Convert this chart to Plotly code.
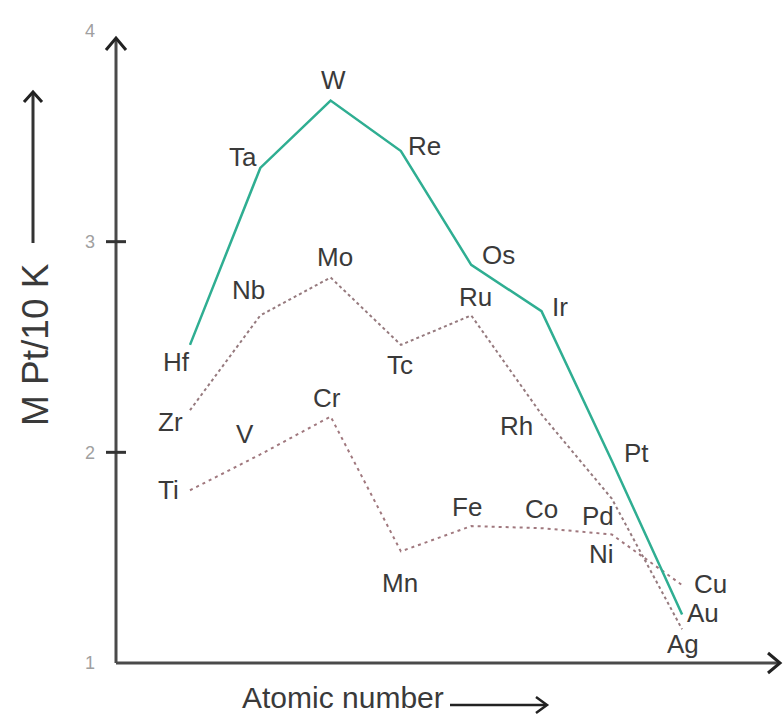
import plotly.graph_objects as go

# Melting points (in thousands of kelvin) of the transition metals, by group column
col_index = [0, 1, 2, 3, 4, 5, 6, 7]

elements_5d = ["Hf", "Ta", "W", "Re", "Os", "Ir", "Pt", "Au"]
mp_5d = [2.51, 3.35, 3.67, 3.43, 2.89, 2.67, 1.96, 1.23]

elements_4d = ["Zr", "Nb", "Mo", "Tc", "Ru", "Rh", "Pd", "Ag"]
mp_4d = [2.20, 2.65, 2.83, 2.51, 2.65, 2.18, 1.78, 1.16]

elements_3d = ["Ti", "V", "Cr", "Mn", "Fe", "Co", "Ni", "Cu"]
mp_3d = [1.82, 1.99, 2.17, 1.53, 1.65, 1.64, 1.61, 1.37]

y_ticks = [1, 2, 3, 4]
y_title = "M Pt/10 K"
x_title = "Atomic number"

# label offsets (pixels) for each element name relative to its point
off_5d = [(-14, -17), (-17, 11), (3, 21), (24, 5), (27, 10), (18, 4), (25, 8), (21, 2)]
off_4d = [(-20, -12), (-12, 25), (4, 20), (-1, -20), (4, 18), (-25, -12), (-14, -17), (1, -15)]
off_3d = [(-22, 0), (-15, 20), (-4, 19), (-1, -32), (-4, 19), (0, 19), (-10, -20), (28, 1)]

W, H = 783, 723
ML, MR, MT, MB = 116, 3, 31, 60
px_per_col = 70.3
x0 = -(190 - ML) / px_per_col
x1 = x0 + (W - ML - MR) / px_per_col
pw, ph = W - ML - MR, H - MT - MB

axis_col = "#4a4a4a"
text_col = "#3a3a3a"
font_fam = "Liberation Sans, Arial, sans-serif"


def px_x(p):
    return (p - ML) / pw


def px_y(p):
    return (H - p - MB) / ph


fig = go.Figure()

fig.add_trace(go.Scatter(x=col_index, y=mp_3d, mode="lines",
                         line=dict(color="rgb(160,120,126)", width=2, dash="3px,4px"),
                         hoverinfo="skip", showlegend=False))
fig.add_trace(go.Scatter(x=col_index, y=mp_4d, mode="lines",
                         line=dict(color="rgb(150,122,126)", width=2, dash="dot"),
                         hoverinfo="skip", showlegend=False))
fig.add_trace(go.Scatter(x=col_index, y=mp_5d, mode="lines",
                         line=dict(color="#2fae92", width=2.5),
                         hoverinfo="skip", showlegend=False))

annotations = []
for names, vals, offs in ((elements_5d, mp_5d, off_5d),
                          (elements_4d, mp_4d, off_4d),
                          (elements_3d, mp_3d, off_3d)):
    for i, (nm, v, (dx, dy)) in enumerate(zip(names, vals, offs)):
        annotations.append(dict(x=col_index[i], y=v, xref="x", yref="y", text=nm,
                                showarrow=False, xshift=dx, yshift=dy,
                                xanchor="center", yanchor="middle",
                                font=dict(family=font_fam, size=26, color=text_col)))

# axis titles
annotations.append(dict(x=px_x(35), y=px_y(345), xref="paper", yref="paper", text=y_title,
                        showarrow=False, textangle=-90, xanchor="center", yanchor="middle",
                        font=dict(family=font_fam, size=37, color=text_col)))
annotations.append(dict(x=px_x(343), y=px_y(697), xref="paper", yref="paper", text=x_title,
                        showarrow=False, xanchor="center", yanchor="middle",
                        font=dict(family=font_fam, size=30, color=text_col)))

shapes = []
line_style = dict(color=axis_col, width=3)
# axes
shapes.append(dict(type="line", xref="paper", yref="paper",
                   x0=px_x(116), x1=px_x(116), y0=px_y(663), y1=px_y(38), line=line_style))
shapes.append(dict(type="line", xref="paper", yref="paper",
                   x0=px_x(116), x1=px_x(780), y0=px_y(663), y1=px_y(663), line=line_style))
# arrow heads on the axes
shapes.append(dict(type="path", xref="paper", yref="paper", xsizemode="pixel", ysizemode="pixel",
                   xanchor=px_x(116), yanchor=px_y(38),
                   path="M -10,-12 L 0,0 L 10,-12", line=dict(color="#222", width=3)))
shapes.append(dict(type="path", xref="paper", yref="paper", xsizemode="pixel", ysizemode="pixel",
                   xanchor=px_x(780), yanchor=px_y(663),
                   path="M -12,10 L 0,0 L -12,-10", line=dict(color="#222", width=3)))
# tick marks at 2 and 3
for v in (2, 3):
    shapes.append(dict(type="line", xref="paper", yref="y", x0=px_x(106), x1=px_x(126),
                       y0=v, y1=v, line=dict(color="#333", width=3)))
# y title arrow
shapes.append(dict(type="line", xref="paper", yref="paper", x0=px_x(33), x1=px_x(33),
                   y0=px_y(243), y1=px_y(94), line=dict(color="#333", width=3)))
shapes.append(dict(type="path", xref="paper", yref="paper", xsizemode="pixel", ysizemode="pixel",
                   xanchor=px_x(33), yanchor=px_y(92),
                   path="M -9,-10 L 0,0 L 9,-10", line=dict(color="#222", width=3)))
# x title arrow
shapes.append(dict(type="line", xref="paper", yref="paper", x0=px_x(450), x1=px_x(546),
                   y0=px_y(705), y1=px_y(705), line=dict(color="#222", width=2.5)))
shapes.append(dict(type="path", xref="paper", yref="paper", xsizemode="pixel", ysizemode="pixel",
                   xanchor=px_x(547), yanchor=px_y(705),
                   path="M -11,8 L 0,0 L -11,-8", line=dict(color="#222", width=2.5)))

fig.update_layout(
    width=W, height=H,
    margin=dict(l=ML, r=MR, t=MT, b=MB, pad=0),
    plot_bgcolor="white", paper_bgcolor="white",
    xaxis=dict(range=[x0, x1], showgrid=False, zeroline=False, showline=False,
               showticklabels=False, ticks=""),
    yaxis=dict(range=[1, 4], showgrid=False, zeroline=False, showline=False,
               tickvals=y_ticks, ticktext=[str(t) for t in y_ticks], ticks="",
               ticklabelstandoff=20,
               tickfont=dict(family=font_fam, size=18, color="#a0a0a0")),
    annotations=annotations,
    shapes=shapes,
)

fig.write_html("out.html")
